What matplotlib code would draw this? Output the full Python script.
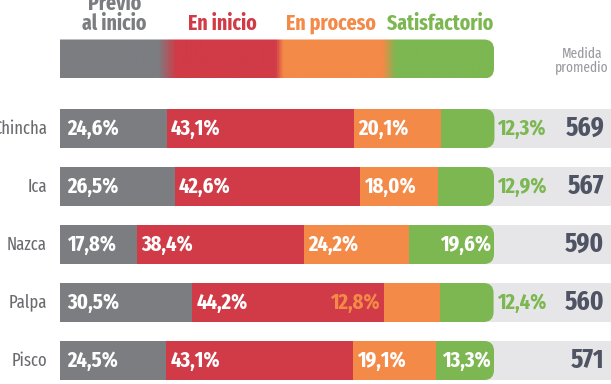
import numpy as np
import matplotlib.pyplot as plt
from matplotlib.patches import FancyBboxPatch
from matplotlib.colors import LinearSegmentedColormap

plt.rcParams['font.family'] = ['Fira Sans Extra Condensed', 'DejaVu Sans']

provincias = ["Chincha", "Ica", "Nazca", "Palpa", "Pisco"]
previo = [24.6, 26.5, 17.8, 30.5, 24.5]
en_inicio = [43.1, 42.6, 38.4, 44.2, 43.1]
en_proceso = [20.1, 18.0, 24.2, 12.8, 19.1]
satisfactorio = [12.3, 12.9, 19.6, 12.4, 13.3]
medida = [569, 567, 590, 560, 571]
niveles = ["Previo\nal inicio", "En inicio", "En proceso", "Satisfactorio"]

GRIS = '#7c7d81'
ROJO = '#d03b47'
NARANJA = '#f38a48'
VERDE = '#7cb751'
FONDO = '#e6e6e8'
TEXTO = '#4f5464'

# pixel geometry: bars start at x=60px, 100% = 434px, rows every 58px
PX_X = 4.34
PX_Y = 58.0
H = 39 / PX_Y
ASPECT = PX_X / PX_Y


def fmt(v):
    return ("%.1f%%" % v).replace(".", ",")


def px(p):
    # pixels -> points for annotate offsets
    return p * 0.72


fig = plt.figure(figsize=(6.11, 3.84), dpi=100)
ax = fig.add_axes([0, 0, 1, 1])

y = np.arange(len(provincias))
prev = np.array(previo)
ini = np.array(en_inicio)
pro = np.array(en_proceso)
sat = np.array(satisfactorio)

xmax = (611 - 60) / PX_X

# light background strip
ax.barh(y, xmax, left=0, height=H, color=FONDO, zorder=0)

# green segment with rounded end, its left part hidden under orange
for i in range(len(y)):
    start = prev[i] + ini[i] + pro[i]
    box = FancyBboxPatch((start - 4, y[i] - H / 2), sat[i] + 4, H,
                         boxstyle="round,pad=0,rounding_size=2.3",
                         mutation_aspect=ASPECT, facecolor=VERDE,
                         edgecolor='none', zorder=1)
    ax.add_patch(box)

ax.barh(y, prev, left=0, height=H, color=GRIS, zorder=2)
ax.barh(y, ini, left=prev, height=H, color=ROJO, zorder=2)
ax.barh(y, pro, left=prev + ini, height=H, color=NARANJA, zorder=2)

lab = dict(fontsize=16, fontweight='bold', va='center', zorder=5,
           textcoords='offset points')

for i in range(len(y)):
    ax.annotate(fmt(prev[i]), (0, y[i]), xytext=(px(7), 0), color='white', ha='left', **lab)
    ax.annotate(fmt(ini[i]), (prev[i], y[i]), xytext=(px(4), 0), color='white', ha='left', **lab)
    if provincias[i] == "Palpa":
        ax.annotate(fmt(pro[i]), (prev[i] + ini[i], y[i]), xytext=(px(-5), 0),
                    color=NARANJA, ha='right', **lab)
    else:
        ax.annotate(fmt(pro[i]), (prev[i] + ini[i], y[i]), xytext=(px(4), 0),
                    color='white', ha='left', **lab)
    total = prev[i] + ini[i] + pro[i] + sat[i]
    if sat[i] >= 13:
        ax.annotate(fmt(sat[i]), (total, y[i]), xytext=(px(-3), 0), color='white', ha='right', **lab)
    else:
        ax.annotate(fmt(sat[i]), (total, y[i]), xytext=(px(3), 0), color=VERDE, ha='left', **lab)

    ax.text((604 - 60) / PX_X, y[i], str(medida[i]), fontsize=19.5, fontweight='bold',
            color=TEXTO, ha='right', va='center')
    ax.text(-13 / PX_X, y[i], provincias[i], fontsize=13,
            color='#6a6b6f', ha='right', va='center')

# header scale bar with blended colours
yl = (59 - 128.5) / PX_Y
cmap = LinearSegmentedColormap.from_list('niveles', [
    (0, GRIS), (0.226, GRIS), (0.267, ROJO), (0.497, ROJO),
    (0.515, NARANJA), (0.746, NARANJA), (0.774, VERDE), (1, VERDE)])
grad = np.linspace(0, 1, 512).reshape(1, -1)
im = ax.imshow(grad, extent=[0, 100, yl + H / 2, yl - H / 2], aspect='auto',
               cmap=cmap, zorder=2)
clip = FancyBboxPatch((-4, yl - H / 2), 104, H,
                      boxstyle="round,pad=0,rounding_size=2.3",
                      mutation_aspect=ASPECT, facecolor='none', edgecolor='none')
ax.add_patch(clip)
im.set_clip_path(clip)

colores = [GRIS, ROJO, NARANJA, VERDE]
paso = 100 / len(niveles)
for k, nombre in enumerate(niveles):
    ax.text((k + 0.5) * paso, (34 - 128.5) / PX_Y, nombre, fontsize=15.5,
            fontweight='bold', color=colores[k], ha='center', va='bottom',
            linespacing=0.9)

ax.text((582 - 60) / PX_X, (61 - 128.5) / PX_Y, "Medida\npromedio", fontsize=10.5,
        color='#9a9ba0', ha='center', va='center', linespacing=1.0)

ax.set_xlim(-60 / PX_X, xmax)
ax.set_ylim((384 - 128.5) / PX_Y, -128.5 / PX_Y)
ax.axis('off')

fig.savefig('out.png', dpi=100)
